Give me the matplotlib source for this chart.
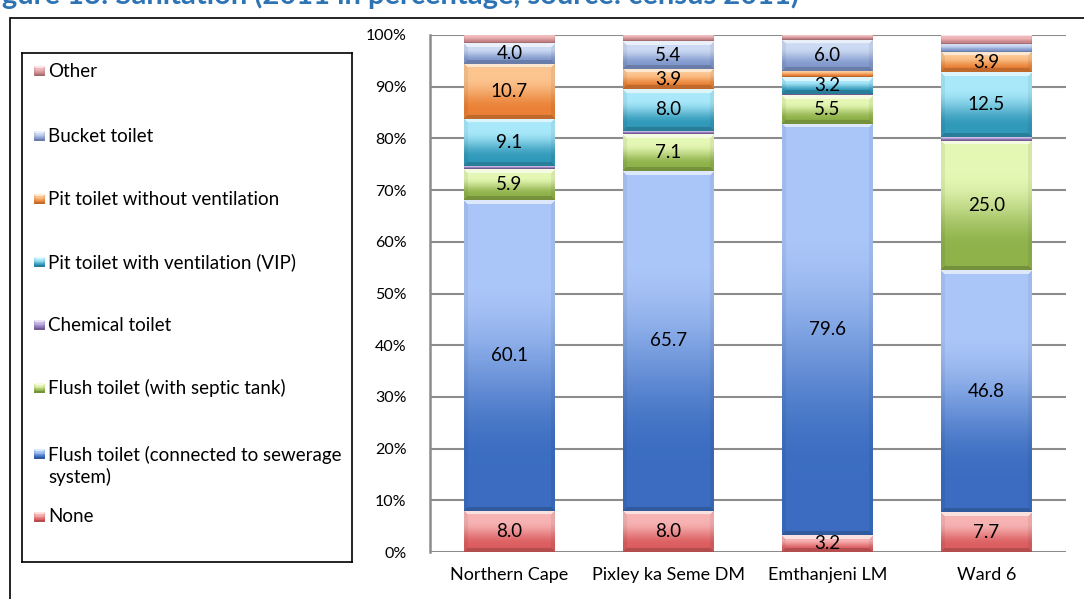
import numpy as np
import matplotlib
matplotlib.use("Agg")
import matplotlib.pyplot as plt
from matplotlib.colors import to_rgb
from matplotlib.patches import Rectangle

plt.rcParams['font.family'] = ['Lato', 'DejaVu Sans']

# sanitation shares (%), census 2011
areas = ["Northern Cape", "Pixley ka Seme DM", "Emthanjeni LM", "Ward 6"]
none_ = [8.0, 8.0, 3.2, 7.7]
flush_sewer = [60.1, 65.7, 79.6, 46.8]
flush_septic = [5.9, 7.1, 5.5, 25.0]
chemical = [0.6, 0.7, 0.3, 0.8]
pit_vip = [9.1, 8.0, 3.2, 12.5]
pit_novent = [10.7, 3.9, 1.2, 3.9]
bucket = [4.0, 5.4, 6.0, 1.6]
other = [1.6, 1.2, 1.0, 1.7]

series = [
    ("None", none_, "#f7b3b3", "#dc5e60"),
    ("Flush toilet (connected to sewerage\nsystem)", flush_sewer, "#abc6f8", "#3b6dc1"),
    ("Flush toilet (with septic tank)", flush_septic, "#e4f7b4", "#8fb24a"),
    ("Chemical toilet", chemical, "#c9b8e6", "#8a70b3"),
    ("Pit toilet with ventilation (VIP)", pit_vip, "#a8e8fa", "#3199ba"),
    ("Pit toilet without ventilation", pit_novent, "#fcc48e", "#ea8136"),
    ("Bucket toilet", bucket, "#ccdaf3", "#8199cd"),
    ("Other", other, "#f0b8ba", "#c9868a"),
]

W_PX, H_PX, DPI = 1084, 599, 100


def bevel_image(c_top, c_bot, h_px, w_px, bevel=5):
    # vertical gradient with a thin bevel edge
    H = max(int(round(h_px)), 1)
    W = max(int(round(w_px)), 1)
    top = np.array(to_rgb(c_top))
    bot = np.array(to_rgb(c_bot))
    t = np.linspace(0, 1, H)[:, None, None]
    t = np.clip((t - 0.25) / 0.6, 0, 1)
    t = t * t * (3 - 2 * t)
    img = top * (1 - t) + bot * t
    img = np.broadcast_to(img, (H, W, 3)).copy()
    b = min(bevel, H / 3.0)
    r = np.arange(H)[:, None] + 0.5
    c = np.arange(W)[None, :] + 0.5
    dt = np.broadcast_to(r, (H, W))
    db = np.broadcast_to(H - r, (H, W))
    dl = np.broadcast_to(c, (H, W))
    dr = np.broadcast_to(W - c, (H, W))
    m = np.minimum(np.minimum(dt, db), np.minimum(dl, dr))
    edge = m < b
    top_m = edge & (dt == m)
    bot_m = edge & (db == m) & ~top_m
    side_m = edge & ~top_m & ~bot_m
    img[top_m] = img[top_m] * 0.4 + 0.6
    img[bot_m] = img[bot_m] * 0.82
    img[side_m] = img[side_m] * 0.94
    return np.clip(img, 0, 1)


fig = plt.figure(figsize=(W_PX / DPI, H_PX / DPI), dpi=DPI)

# outer frame and heading running off the top edge
fig.patches.append(Rectangle((10 / W_PX, -0.1), 1.2, 1.1 - 18 / H_PX,
                             transform=fig.transFigure, fill=False,
                             edgecolor="black", linewidth=1.2))
fig.text(-22 / W_PX, 1 - 4 / H_PX,
         "Figure 13: Sanitation (2011 in percentage, source: census 2011)",
         color="#2e74b5", fontsize=21, fontweight="bold", va="baseline", ha="left")

ax_left, ax_right = 430 / W_PX, 1066 / W_PX
ax_bot, ax_top = (H_PX - 552) / H_PX, (H_PX - 35) / H_PX
ax = fig.add_axes([ax_left, ax_bot, ax_right - ax_left, ax_top - ax_bot])

x = np.arange(len(areas))
bw = 0.57
ax_w_px = (ax_right - ax_left) * W_PX
ax_h_px = (ax_top - ax_bot) * H_PX

bottoms = np.zeros(len(areas))
for name, vals, ctop, cbot in series:
    bars = ax.bar(x, vals, bw, bottom=bottoms, color=cbot, edgecolor="none", zorder=2)
    for bar, v in zip(bars, vals):
        x0, y0 = bar.get_x(), bar.get_y()
        w, h = bar.get_width(), bar.get_height()
        hp = h / 100 * ax_h_px
        wp = w / 4 * ax_w_px
        img = bevel_image(ctop, cbot, hp, wp, bevel=4.5 if hp > 12 else 1.5)
        ax.imshow(img, extent=(x0, x0 + w, y0, y0 + h), aspect="auto",
                  origin="upper", interpolation="bilinear", zorder=3)
        if v >= 3:
            ax.text(x0 + w / 2, y0 + h / 2, f"{v:.1f}", ha="center", va="center",
                    fontsize=13.5, color="black", zorder=4)
    bottoms = bottoms + np.array(vals)

ax.set_xlim(-0.5, 3.5)
ax.set_ylim(0, 100)
ax.set_yticks(np.arange(0, 101, 10))
ax.set_yticklabels([f"{v}%" for v in range(0, 101, 10)], fontsize=11.5)
ax.set_xticks(x)
ax.set_xticklabels(areas, fontsize=13)
ax.tick_params(axis="y", length=0, pad=17)
ax.tick_params(axis="x", length=0, pad=11)
ax.yaxis.grid(True, color="#8c8c8c", linewidth=1.5, zorder=0)
ax.set_axisbelow(True)
for s in ["top", "right", "bottom"]:
    ax.spines[s].set_visible(False)
ax.spines["left"].set_color("#8c8c8c")
ax.spines["left"].set_linewidth(1.8)

# legend drawn in its own box
lx0, lx1, ly0, ly1 = 22, 352, 53, 562
lax = fig.add_axes([lx0 / W_PX, (H_PX - ly1) / H_PX, (lx1 - lx0) / W_PX, (ly1 - ly0) / H_PX])
lax.set_xticks([])
lax.set_yticks([])
for s in lax.spines.values():
    s.set_linewidth(1.2)
    s.set_color("black")

leg_y = [517, 466, 388, 325, 262, 199, 136, 71]
for (name, vals, ctop, cbot), yy in zip(series, leg_y):
    first_line_y = yy - 12 if "\n" in name else yy
    sq = bevel_image(ctop, cbot, 10, 11, bevel=2)
    lax.imshow(sq, extent=(34, 45, first_line_y + 5, first_line_y - 5),
               aspect="auto", origin="upper", interpolation="nearest")
    lax.text(48, yy, name, fontsize=13.5, va="center", ha="left", linespacing=1.3)
lax.set_xlim(lx0, lx1)
lax.set_ylim(ly1, ly0)

fig.savefig("out.png", dpi=DPI)
